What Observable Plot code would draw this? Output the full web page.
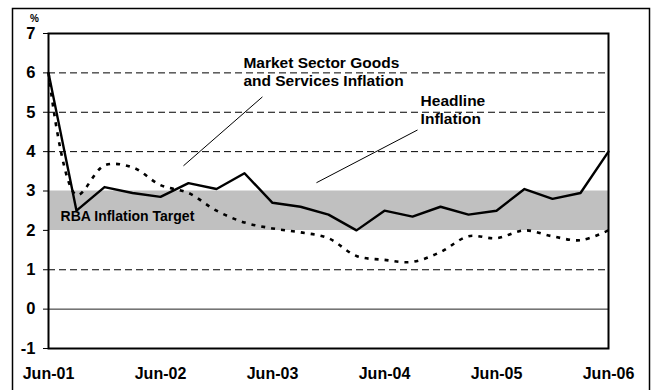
<!DOCTYPE html>
<html>
<head>
<meta charset="utf-8">
<script src="https://cdn.jsdelivr.net/npm/d3@7"></script>
<script src="https://cdn.jsdelivr.net/npm/@observablehq/plot@0.6"></script>
<style>
  body { margin: 0; background: #fff; }
  #chart { width: 651px; height: 390px; overflow: hidden; }
</style>
</head>
<body>
<div id="chart"></div>
<script>
const quarters = ["Jun-01","Sep-01","Dec-01","Mar-02","Jun-02","Sep-02","Dec-02","Mar-03","Jun-03","Sep-03","Dec-03","Mar-04","Jun-04","Sep-04","Dec-04","Mar-05","Jun-05","Sep-05","Dec-05","Mar-06","Jun-06"];
const headline = [6.0, 2.5, 3.1, 2.95, 2.85, 3.2, 3.05, 3.45, 2.7, 2.6, 2.4, 2.0, 2.5, 2.35, 2.6, 2.4, 2.5, 3.05, 2.8, 2.95, 4.0];
const marketSector = [6.0, 2.9, 3.65, 3.6, 3.15, 2.95, 2.5, 2.2, 2.05, 1.95, 1.8, 1.35, 1.25, 1.2, 1.45, 1.85, 1.8, 2.0, 1.85, 1.75, 2.0];
const xTickLabels = ["Jun-01","Jun-02","Jun-03","Jun-04","Jun-05","Jun-06"];
const yTicks = [-1, 0, 1, 2, 3, 4, 5, 6, 7];
const gridValues = [1, 4, 5, 6];
const targetLow = 2;
const targetHigh = 3;
const unitLabel = "%";

// annotation texts & anchors (in data coordinates: quarter index, percent)
const annotationTexts = [
  {text: "Market Sector Goods\nand Services Inflation", x: 6.96, y: 6.05},
  {text: "Headline\nInflation", x: 13.29, y: 5.08}
];
const targetLabel = [{text: "RBA Inflation Target", x: 0.43, y: 2.35}];
const leaderLines = [
  {x1: 7.64, y1: 5.39, x2: 4.82, y2: 3.64},
  {x1: 13.18, y1: 4.55, x2: 9.57, y2: 3.21}
];

const headData = quarters.map((q, i) => ({i, v: headline[i]}));
const marketData = quarters.map((q, i) => ({i, v: marketSector[i]}));
const bandData = quarters.map((q, i) => ({i}));
const xTicks = xTickLabels.map(l => quarters.indexOf(l));

const font = "'Liberation Sans', Arial, Helvetica, sans-serif";

const svg = Plot.plot({
  width: 651,
  height: 390,
  marginLeft: 48,
  marginRight: 43,
  marginTop: 33,
  marginBottom: 42,
  style: {fontFamily: font, background: "#fff", color: "#000"},
  x: {type: "linear", domain: [0, quarters.length - 1]},
  y: {domain: [-1, 7]},
  marks: [
    Plot.ruleY(gridValues, {stroke: "#000", strokeWidth: 1, strokeDasharray: "7,4"}),
    Plot.areaY(bandData, {x: "i", y1: () => targetLow, y2: () => targetHigh, fill: "#c0c0c0"}),
    Plot.ruleY([0], {stroke: "#222", strokeWidth: 1}),
    Plot.lineY(marketData, {x: "i", y: "v", stroke: "#000", strokeWidth: 2.6, strokeDasharray: "4,6", strokeLinecap: "butt", curve: "catmull-rom"}),
    Plot.lineY(headData, {x: "i", y: "v", stroke: "#000", strokeWidth: 2.4}),
    Plot.frame({stroke: "#000", strokeWidth: 2}),
    Plot.axisY(yTicks, {tickSize: 5, tickPadding: 8, tickFormat: d => String(d), fontSize: 16.5, fontWeight: "bold", label: null, stroke: "#000", strokeWidth: 1}),
    Plot.axisX(xTicks, {tickSize: 0, tickPadding: 19, tickFormat: i => quarters[i], fontSize: 16, fontWeight: "bold", label: null}),
    Plot.text([unitLabel], {x: () => 0, y: () => 7, text: d => d, dx: -14, dy: -15, fontSize: 10, fontWeight: "bold", textAnchor: "middle"}),
    Plot.link(leaderLines, {x1: "x1", y1: "y1", x2: "x2", y2: "y2", stroke: "#000", strokeWidth: 1}),
    Plot.text(annotationTexts, {x: "x", y: "y", text: "text", textAnchor: "start", lineAnchor: "middle", lineHeight: 1.2, fontSize: 15.5, fontWeight: "bold", fill: "#000"}),
    Plot.text(targetLabel, {x: "x", y: "y", text: "text", textAnchor: "start", fontSize: 14, fontWeight: "bold", fill: "#000"})
  ]
});

d3.select(svg).append("rect")
  .attr("x", 12.5).attr("y", 8.5)
  .attr("width", 637).attr("height", 400)
  .attr("fill", "none").attr("stroke", "#000").attr("stroke-width", 1.5);

document.getElementById("chart").appendChild(svg);
</script>
</body>
</html>
